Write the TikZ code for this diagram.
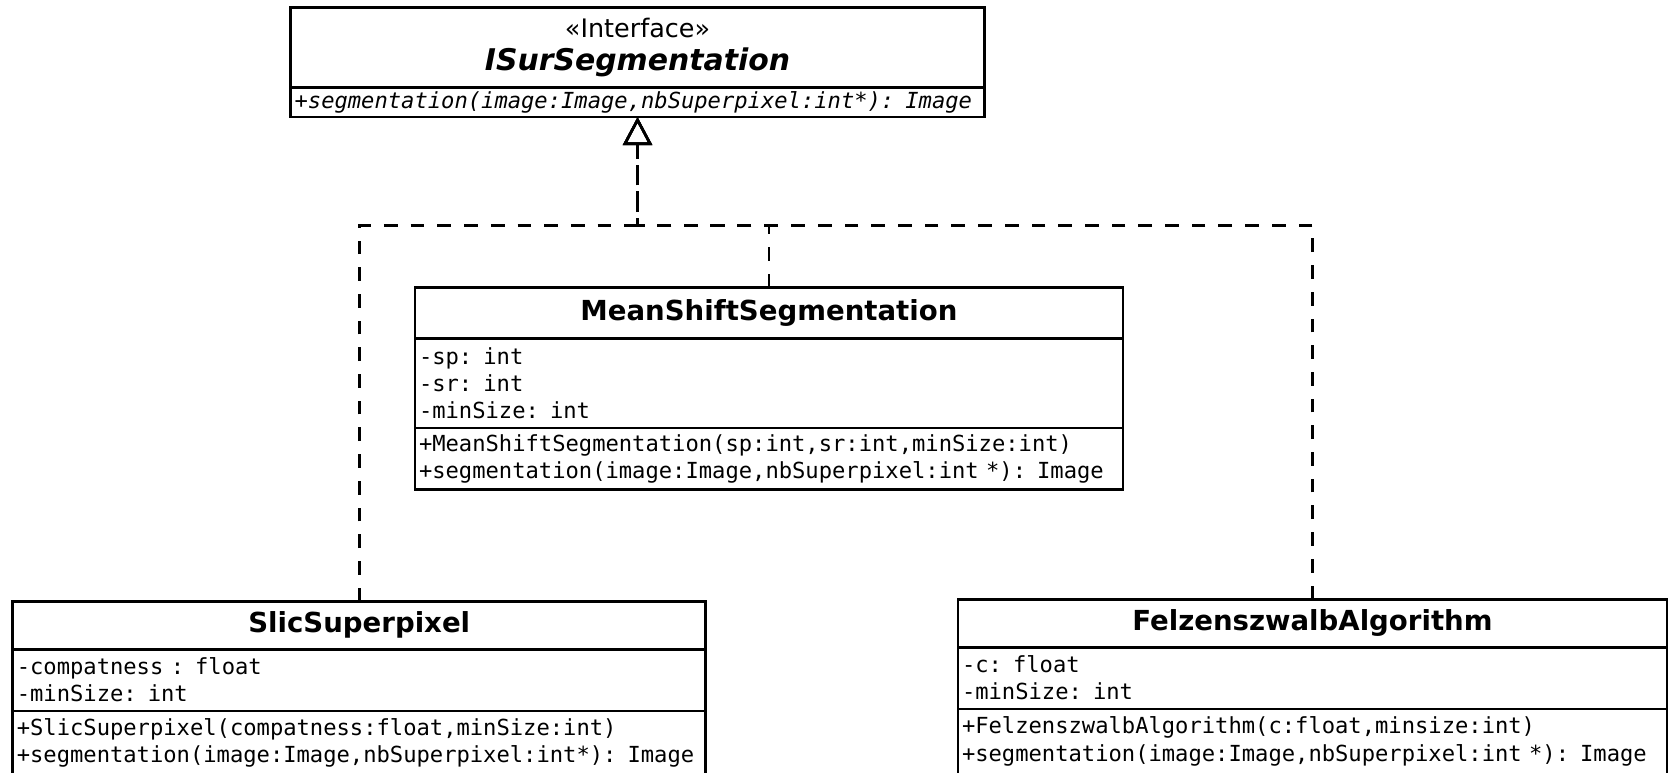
\documentclass[tikz,border=0pt]{standalone}
\usepackage{fontspec}
\setmainfont{DejaVu Sans}
\setmonofont{DejaVu Sans Mono}[WordSpace={1,0,0}]
\usetikzlibrary{positioning,arrows.meta}

\newcommand{\memberfont}{\ttfamily\fontsize{12.6}{15.4}\selectfont}

\tikzset{
	classbox/.style={draw, line width=1.5pt, anchor=north west, outer sep=0pt,
		inner xsep=0.08cm, inner ysep=0pt},
	classname/.style={classbox, align=center, font=\bfseries\fontsize{15.7}{18}\selectfont},
	members/.style={classbox, align=left, font=\memberfont},
	impl/.style={line width=1.5pt, dash pattern=on 7.8pt off 7.4pt,
		-{Triangle[open, length=0.56cm, width=0.58cm]}}
}

\begin{document}
\begin{tikzpicture}[x=0.02cm, y=-0.02cm]
	\useasboundingbox (0,0) rectangle (1669,772);
	
	%interface
	\node[classname, font=\bfseries\fontsize{17}{17}\selectfont, text width=13.72cm,
		minimum height=1.596cm] (ifname) at (290.6,7.5)
		{{\mdseries\fontsize{14.5}{17}\selectfont <<Interface>>}\\[1.5pt] \itshape ISurSegmentation\\[3pt]};
	\node[members, font=\memberfont\itshape, text width=13.72cm, minimum height=0.596cm,
		below=0pt of ifname] (ifops)
		{+segmentation(image:Image,nbSuperpixel:int*): Image};
	
	%mean shift
	\node[classname, text width=14.0cm, minimum height=1.022cm] (msname) at (415,287.4)
		{MeanShiftSegmentation};
	\node[members, text width=14.0cm, minimum height=1.788cm, below=0pt of msname] (msattr)
		{-sp: int\\-sr: int\\-minSize: int};
	\node[members, text width=14.0cm, minimum height=1.234cm, below=0pt of msattr] (msops)
		{+MeanShiftSegmentation(sp:int,sr:int,minSize:int)\\
		 +segmentation(image:Image,nbSuperpixel:int *): Image};
	
	%slic
	\node[classname, text width=13.70cm, minimum height=0.958cm] (slname) at (12.8,601.4)
		{SlicSuperpixel};
	\node[members, text width=13.70cm, minimum height=1.234cm, below=0pt of slname] (slattr)
		{-compatness : float\\-minSize: int};
	\node[members, text width=13.70cm, minimum height=1.26cm, below=0pt of slattr] (slops)
		{+SlicSuperpixel(compatness:float,minSize:int)\\
		 +segmentation(image:Image,nbSuperpixel:int*): Image};
	
	%felzenszwalb
	\node[classname, text width=14.02cm, minimum height=0.958cm] (fzname) at (958,599.3)
		{FelzenszwalbAlgorithm};
	\node[members, text width=14.02cm, minimum height=1.234cm, below=0pt of fzname] (fzattr)
		{-c: float\\-minSize: int};
	\node[members, text width=14.02cm, minimum height=1.3cm, below=0pt of fzattr] (fzops)
		{+FelzenszwalbAlgorithm(c:float,minsize:int)\\
		 +segmentation(image:Image,nbSuperpixel:int *): Image};
	
	%realisations
	\coordinate (jn) at ([yshift=-2.17cm]ifops.south);
	\draw[impl] (slname.north) |- (jn) -- (ifops.south);
	\draw[impl] (msname.north) |- (jn) -- (ifops.south);
	\draw[impl] (fzname.north) |- (jn) -- (ifops.south);
\end{tikzpicture}
\end{document}
